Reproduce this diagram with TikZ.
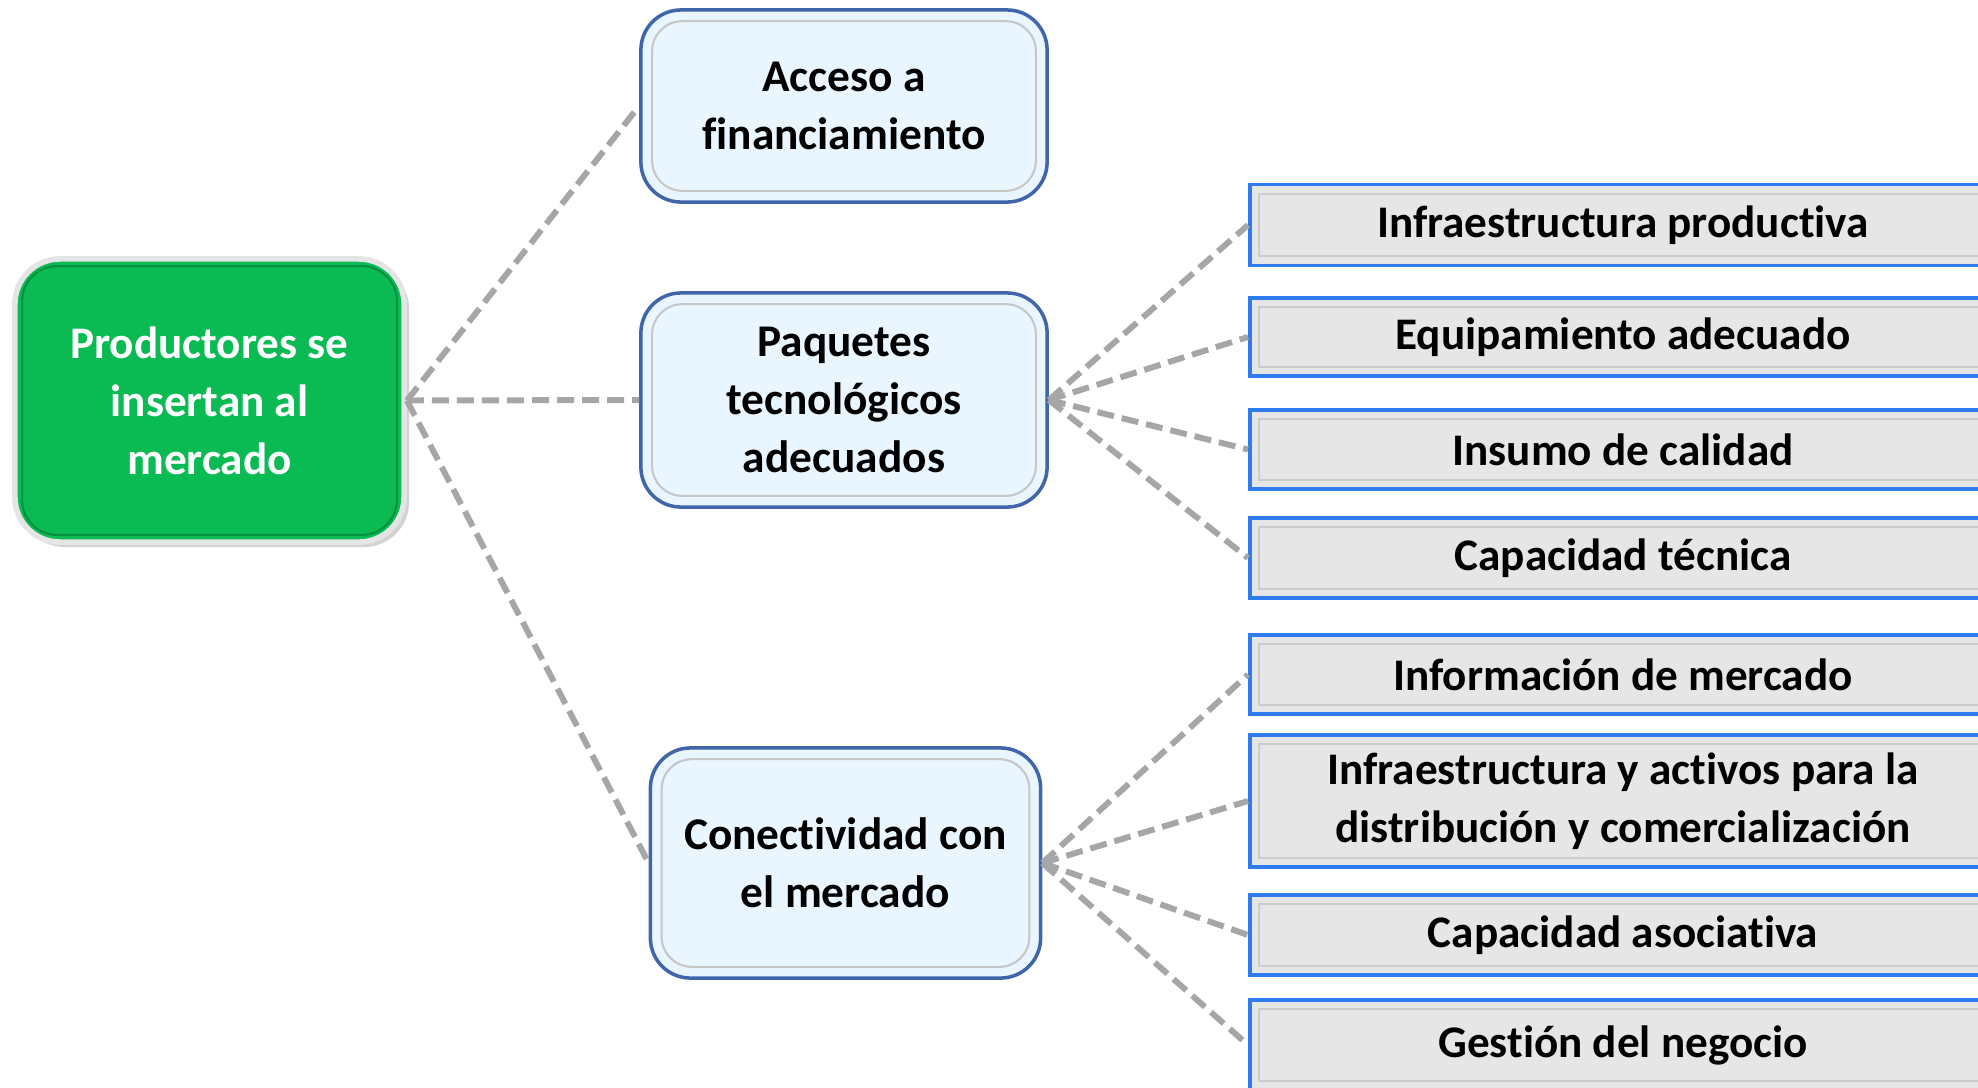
\documentclass[tikz,border=0pt]{standalone}
\usepackage{fontspec}
\setmainfont{Carlito}[Ligatures=CommonOff]
\usetikzlibrary{calc,positioning,shadows}
\definecolor{rootgreen}{HTML}{0ABA53}
\definecolor{rootedge}{HTML}{07903F}
\definecolor{midfill}{HTML}{EAF6FF}
\definecolor{midedge}{HTML}{4065AA}
\definecolor{itemfill}{HTML}{E6E6E6}
\definecolor{itemedge}{HTML}{2F7CEE}
\definecolor{linkgray}{HTML}{A6A6A6}

\begin{document}
\begin{tikzpicture}[x=0.01cm,y=-0.01cm,
    rootbox/.style={draw=black!10, line width=1.6pt, fill=rootgreen, rounded corners=0.45cm,
      inner sep=0pt, align=center, text=white,
      font=\bfseries\fontsize{12.85}{16.5}\selectfont,
      drop shadow={opacity=0.35, shadow xshift=0.05cm, shadow yshift=-0.05cm}},
    midbox/.style={draw=midedge, line width=1pt, fill=midfill, rounded corners=0.4cm,
      inner sep=0pt, align=center, font=\bfseries\fontsize{12.9}{16.5}\selectfont},
    itembox/.style={draw=itemedge, line width=1pt, fill=itemfill, inner sep=0pt,
      minimum width=7.46cm, align=center, font=\bfseries\fontsize{12.85}{16.5}\selectfont},
    rootbevel/.style={draw=rootedge, line width=0.6pt, rounded corners=0.35cm},
    midbevel/.style={draw=black!22, line width=0.6pt, rounded corners=0.3cm},
    itembevel/.style={draw=black!20, line width=0.6pt},
    link/.style={draw=linkgray, line width=1.7pt, dash pattern=on 0.17cm off 0.08cm}]
  \clip (0,0) rectangle (1978,1087);

  % root and the three branches
  \node[rootbox, minimum width=3.89cm, minimum height=2.83cm] (prod) at (209.5,400.5)
    {Productores se\\insertan al\\mercado};
  \node[midbox, minimum width=4.06cm, minimum height=1.92cm] (finan) at (844,106)
    {Acceso a\\financiamiento};
  \node[midbox, minimum width=4.06cm, minimum height=2.14cm] (paquete) at (844,400)
    {Paquetes\\tecnológicos\\adecuados};
  \node[midbox, minimum width=3.90cm, minimum height=2.30cm] (conect) at (845.5,863)
    {Conectividad con\\el mercado};

  % leaves
  \node[itembox, minimum height=0.81cm] (infra) at (1623,225) {Infraestructura productiva};
  \node[itembox, minimum height=0.78cm] (equipo) at (1623,337) {Equipamiento adecuado};
  \node[itembox, minimum height=0.79cm] (insumo) at (1623,449.5) {Insumo de calidad};
  \node[itembox, minimum height=0.80cm] (tecnica) at (1623,558) {Capacidad técnica};
  \node[itembox, minimum height=0.79cm] (info) at (1623,674.5) {Información de mercado};
  \node[itembox, minimum height=1.32cm] (activos) at (1623,801)
    {Infraestructura y activos para la\\distribución y comercialización};
  \node[itembox, minimum height=0.80cm] (asoc) at (1623,935) {Capacidad asociativa};
  \node[itembox, minimum height=0.90cm] (gestion) at (1623,1045) {Gestión del negocio};

  % inner bevels
  \draw[rootbevel] ($(prod.north west)+(10,10)$) rectangle ($(prod.south east)+(-10,-10)$);
  \foreach \n in {finan,paquete,conect}
    \draw[midbevel] ($(\n.north west)+(13,13)$) rectangle ($(\n.south east)+(-13,-13)$);
  \foreach \n in {infra,equipo,insumo,tecnica,info,activos,asoc,gestion}
    \draw[itembevel] ($(\n.north west)+(11,11)$) rectangle ($(\n.south east)+(-11,-11)$);

  % dashed links
  \draw[link] (prod.east) -- (finan.west);
  \draw[link] (prod.east) -- (paquete.west);
  \draw[link] (prod.east) -- (conect.west);
  \foreach \n in {infra,equipo,insumo,tecnica}
    \draw[link] (paquete.east) -- (\n.west);
  \foreach \n in {info,activos,asoc,gestion}
    \draw[link] (conect.east) -- (\n.west);
\end{tikzpicture}
\end{document}
